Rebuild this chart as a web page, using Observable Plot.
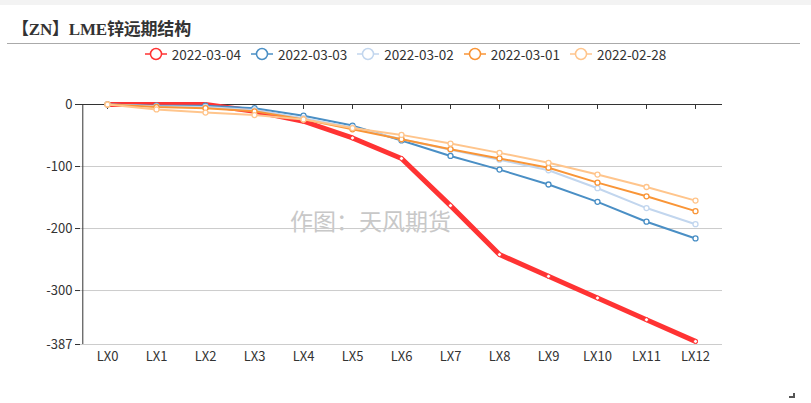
<!DOCTYPE html>
<html>
<head>
<meta charset="utf-8">
<script src="https://cdn.jsdelivr.net/npm/d3@7"></script>
<script src="https://cdn.jsdelivr.net/npm/@observablehq/plot@0.6"></script>
<style>
  html, body { margin: 0; padding: 0; background: #fff; }
  body { width: 811px; height: 403px; position: relative; overflow: hidden; font-family: "Noto Sans CJK SC", "Noto Sans", sans-serif; }
  #topband { position: absolute; left: 0; top: 0; width: 811px; height: 5px; background: #f3f3f3; }
  #title { position: absolute; left: 12px; top: 15px; font-family: "Liberation Serif", "Noto Sans CJK SC", serif; font-weight: bold; font-size: 17px; color: #333; letter-spacing: -0.2px; }
  #rule { position: absolute; left: 7px; top: 43px; width: 793px; height: 1px; background: #aaa; }
  #legend { position: absolute; left: 0; top: 45px; width: 811px; height: 18px; display: flex; justify-content: center; align-items: center; gap: 10px; font-size: 13.5px; color: #333; }
  #legend .item { display: flex; align-items: center; gap: 5px; }
  #chart { position: absolute; left: 0; top: 70px; }
  #corner { position: absolute; left: 793px; top: 393px; width: 2px; height: 5px; background: #555; }
  #corner2 { position: absolute; left: 789px; top: 396px; width: 6px; height: 2px; background: #555; }
</style>
</head>
<body>
<div id="topband"></div>
<div id="title">【ZN】LME锌远期结构</div>
<div id="rule"></div>
<div id="legend"></div>
<div id="chart"></div>
<div id="corner"></div><div id="corner2"></div>
<script>
const categories = ["LX0","LX1","LX2","LX3","LX4","LX5","LX6","LX7","LX8","LX9","LX10","LX11","LX12"];
const seriesNames = ["2022-03-04","2022-03-03","2022-03-02","2022-03-01","2022-02-28"];
const seriesColors = ["#ff3333","#4a8fc5","#c2d6ee","#f99537","#ffc58c"];
const v20220304 = [0, 0, 0, -11, -27, -54, -87, -163, -242, -277, -312, -347, -382];
const v20220303 = [0, -2, -2, -6, -18, -34, -58, -83, -105, -129, -157, -189, -216];
const v20220302 = [0, -3, -4, -9, -22, -37, -56, -73, -89, -106, -135, -167, -193];
const v20220301 = [0, -4, -6, -11, -24, -40, -56, -72, -87, -102, -126, -148, -172];
const v20220228 = [0, -8, -13, -17, -24, -38, -49, -63, -78, -94, -113, -133, -155];
const yTicks = [0, -100, -200, -300, -387];
const watermark = "作图：天风期货";

const allValues = [v20220304, v20220303, v20220302, v20220301, v20220228];
const rows = [];
seriesNames.forEach((s, i) => categories.forEach((c, j) => rows.push({series: s, cat: c, value: allValues[i][j]})));

// legend
const legend = document.getElementById("legend");
seriesNames.forEach((s, i) => {
  const it = document.createElement("div");
  it.className = "item";
  it.innerHTML = `<svg width="22" height="14"><line x1="0" x2="22" y1="7" y2="7" stroke="${seriesColors[i]}" stroke-width="1.5"/><circle cx="11" cy="7" r="5.5" fill="#fff" stroke="${seriesColors[i]}" stroke-width="1.5"/></svg><span>${s}</span>`;
  legend.appendChild(it);
});

const W = 811, mL = 80, mR = 89;
const step = (W - mL - mR) / categories.length;

const marks = [
  Plot.text([watermark], {frameAnchor: "middle", dx: -31, dy: -2, text: d => d, fill: "#c8c8c8", fontSize: 23, fontFamily: "Noto Sans CJK SC"}),
  Plot.ruleY(yTicks.filter(d => d !== 0), {stroke: "#ccc", strokeWidth: 1}),
  Plot.ruleY([0], {stroke: "#333", strokeWidth: 1}),
  Plot.ruleX(categories, {x: d => d, y1: 0, y2: -8, stroke: "#333"}),
  Plot.ruleX([categories[0]], {x: d => d, dx: -step / 2, y1: -387, y2: 0, stroke: "#333"})
];
seriesNames.forEach((s, i) => {
  const d = rows.filter(r => r.series === s);
  marks.push(Plot.line(d, {x: "cat", y: "value", stroke: seriesColors[i], strokeWidth: i === 0 ? 5 : 2}));
  marks.push(Plot.dot(d, {x: "cat", y: "value", r: i === 0 ? 2 : 2.5, fill: "#fff", stroke: seriesColors[i], strokeWidth: i === 0 ? 1 : 1.3}));
});
marks.push(Plot.axisY({ticks: yTicks, tickSize: 5, tickPadding: 3, tickFormat: d => String(d), fill: "#333", fontSize: 13}));
marks.push(Plot.axisX({anchor: "bottom", tickSize: 0, tickPadding: 7, fill: "#333", fontSize: 13}));

const plot = Plot.plot({
  width: W,
  height: 300,
  marginLeft: mL,
  marginRight: mR,
  marginTop: 34,
  marginBottom: 26,
  style: {background: "transparent", fontSize: "13px", fontFamily: "Noto Sans CJK SC, Noto Sans, sans-serif", color: "#333"},
  x: {type: "point", domain: categories, padding: 0.5, label: null},
  y: {domain: [-387, 0], label: null},
  marks
});
document.getElementById("chart").appendChild(plot);
</script>
</body>
</html>
